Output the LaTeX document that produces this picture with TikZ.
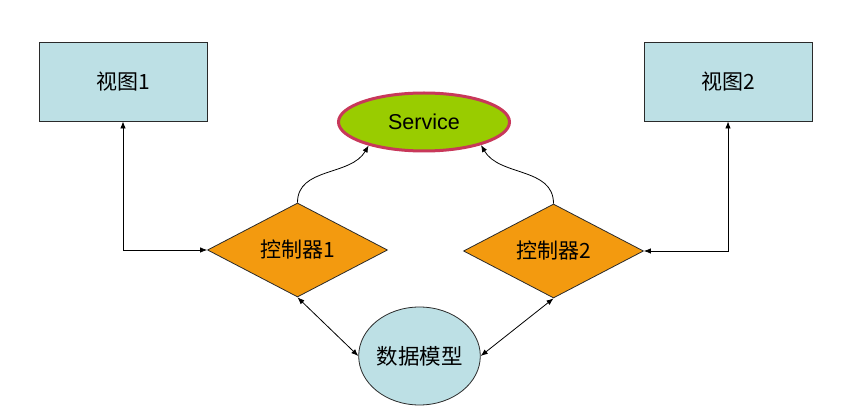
\documentclass[tikz,border=0pt]{standalone}
\usepackage{fontspec}
\setmainfont{Liberation Sans}
\newfontfamily\cjk{Noto Sans CJK SC}
\usetikzlibrary{shapes.geometric,arrows.meta,shadows}

\definecolor{viewblue}{HTML}{BDE0E5}
\definecolor{ctrlorange}{HTML}{F39A0F}
\definecolor{svcgreen}{HTML}{99CC00}
\definecolor{svcrim}{HTML}{C8385A}
\definecolor{edgedark}{HTML}{2A2A2A}

\tikzset{
  x=1pt, y=1pt,
  viewbox/.style={draw=edgedark, line width=0.9pt, fill=viewblue,
    minimum width=168pt, minimum height=79pt, inner sep=0pt,
    drop shadow={shadow xshift=1pt, shadow yshift=-1.5pt, fill=black!35, opacity=1},
    font=\cjk\fontsize{21}{25}\selectfont},
  ctrlbox/.style={diamond, draw=edgedark, line width=0.8pt, fill=ctrlorange,
    minimum width=180pt, minimum height=94pt, inner sep=0pt,
    font=\cjk\fontsize{21}{25}\selectfont},
  svcbox/.style={ellipse, draw=svcrim, line width=3pt, fill=svcgreen,
    minimum width=171pt, minimum height=58pt, inner sep=0pt,
    font=\fontsize{21.5}{25}\selectfont},
  modelbox/.style={ellipse, draw=edgedark, line width=0.8pt, fill=viewblue,
    minimum width=115pt, minimum height=98pt, inner sep=0pt,
    font=\cjk\fontsize{21.5}{25}\selectfont},
  link/.style={draw=black, line width=0.8pt,
    arrows={Latex[length=7pt,width=5.5pt]-Latex[length=7pt,width=5.5pt]}},
  uplink/.style={draw=black, line width=0.8pt,
    -{Latex[length=7pt,width=5.5pt]}}
}

\begin{document}
\begin{tikzpicture}
  \useasboundingbox (0,0) rectangle (860,415);
  \fill[white] (0,0) rectangle (860,415);

  % views
  \node[viewbox] (v1) at (123,333.5) {视图1};
  \node[viewbox] (v2) at (728,333.5) {视图2};

  % service
  \node[svcbox] (svc) at (424,293) {Service};

  % controllers
  \node[ctrlbox] (c1) at (297.5,165) {控制器1};
  \node[ctrlbox] (c2) at (553.5,164) {控制器2};

  % data model
  \node[modelbox] (dm) at (419.5,59) {数据模型};

  % view <-> controller
  \draw[link] (v1.south) |- (c1.west);
  \draw[link] (v2.south) |- (c2.east);

  % controller -> service
  \draw[uplink] (c1.north) to[out=90, in=240] (svc.203);
  \draw[uplink] (c2.north) to[out=90, in=300] (svc.338);

  % controller <-> data model
  \draw[link] (c1.south) -- (dm.west);
  \draw[link] (c2.south) -- (dm.east);
\end{tikzpicture}
\end{document}
